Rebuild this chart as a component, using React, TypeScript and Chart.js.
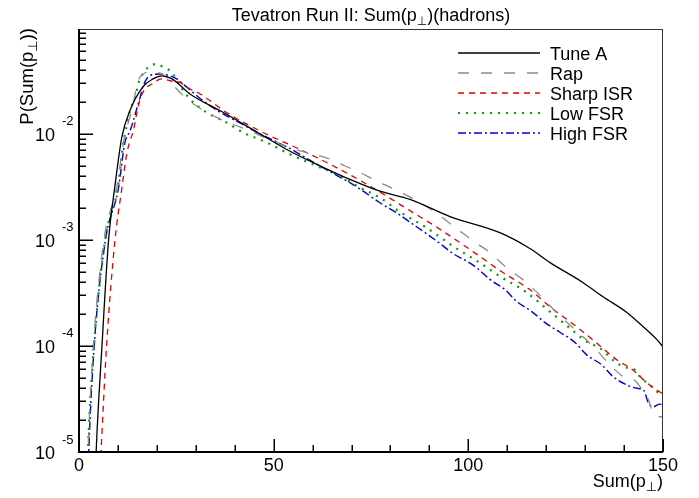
import React, { useEffect, useRef } from "react";
import { Chart, registerables } from "chart.js";

Chart.register(...registerables);

// ---------- axis ranges & ticks ----------
const xMin = 0;
const xMax = 150;
const yMin = 1e-5;
const yMax = 0.0975;
const xTickValues = [0, 10, 20, 30, 40, 50, 60, 70, 80, 90, 100, 110, 120, 130, 140, 150];
const xMajorTicks = [0, 50, 100, 150];
const xTickLabels = ["0", "50", "100", "150"];
const yDecadeExponents = [-5, -4, -3, -2, -1];
const yLabelExponents = ["-5", "-4", "-3", "-2"];

// ---------- legend / series names ----------
const seriesNames = ["Tune A", "Rap", "Sharp ISR", "Low FSR", "High FSR"];

// ---------- data ----------
const tuneAX = [3.5, 4.4, 5.9, 7.6, 9.2, 11.0, 13.1, 16.4, 19.0, 21.3, 23.9, 28.5, 37.0, 45.7, 54.2, 62.7, 69.6, 77.3, 85.0, 95.3, 108.1, 115.8, 121.0, 129.5, 134.6, 140.8, 144.9, 148.5, 150];
const tuneAY = [1e-6, 1e-5, 1e-4, 1e-3, 3.16e-3, 9.33e-3, 1.66e-2, 2.77e-2, 3.30e-2, 3.52e-2, 3.30e-2, 2.38e-2, 1.60e-2, 1.04e-2, 6.85e-3, 4.84e-3, 3.72e-3, 2.88e-3, 2.41e-3, 1.66e-3, 1.17e-3, 8.30e-4, 6.11e-4, 3.95e-4, 2.91e-4, 2.06e-4, 1.52e-4, 1.14e-4, 9.8e-5];

const rapX = [1.5, 2.3, 3.7, 6.4, 9.6, 11.6, 13.6, 15.2, 16.5, 18.8, 21.3, 22.9, 24.7, 26.8, 29.4, 31.5, 36.2, 41.4, 45.6, 49.5, 56.8, 60.2, 64.5, 68.3, 72.2, 76.0, 81.8, 87.2, 92.3, 96.1, 98.7, 101.3, 105.1, 109.9, 114.6, 119.1, 123.2, 127.0, 132.3, 136.4, 139.8, 142.8, 145.0, 146.3, 147.5, 148.6, 149.7];
const rapY = [1e-6, 1e-5, 1e-4, 1e-3, 3.02e-3, 8.91e-3, 1.70e-2, 3.16e-2, 3.67e-2, 3.84e-2, 3.67e-2, 3.30e-2, 2.75e-2, 2.29e-2, 1.91e-2, 1.71e-2, 1.38e-2, 1.16e-2, 1.0e-2, 8.61e-3, 6.90e-3, 6.43e-3, 5.77e-3, 4.98e-3, 4.32e-3, 3.66e-3, 2.92e-3, 2.29e-3, 1.74e-3, 1.35e-3, 1.15e-3, 9.73e-4, 7.82e-4, 5.45e-4, 4.06e-4, 2.83e-4, 1.97e-4, 1.47e-4, 9.70e-5, 6.62e-5, 5.13e-5, 4.71e-5, 3.71e-5, 3.09e-5, 2.31e-5, 2.15e-5, 2.15e-5];

const sharpIsrX = [5.0, 5.65, 7.06, 9.25, 10.97, 12.25, 13.1, 13.95, 14.8, 15.7, 16.95, 18.7, 21.2, 23.4, 25.9, 28.5, 31.1, 37.9, 47.3, 57.6, 67.0, 74.7, 85.8, 92.0, 100.4, 108.9, 115.8, 121.0, 127.9, 132.0, 138.2, 142.3, 145.9, 149.2, 150];
const sharpIsrY = [3.55e-6, 1e-5, 9.77e-5, 1e-3, 3.0e-3, 6.43e-3, 8.59e-3, 1.067e-2, 1.535e-2, 2.13e-2, 2.65e-2, 2.95e-2, 3.30e-2, 3.17e-2, 3.06e-2, 2.65e-2, 2.38e-2, 1.59e-2, 1.03e-2, 6.90e-3, 4.63e-3, 3.22e-3, 1.81e-3, 1.31e-3, 8.13e-4, 4.92e-4, 3.40e-4, 2.34e-4, 1.51e-4, 1.14e-4, 7.38e-5, 5.94e-5, 4.47e-5, 3.68e-5, 3.55e-5];

const lowFsrX = [1.6, 2.3, 3.85, 6.7, 9.9, 11.4, 12.25, 13.1, 14.4, 15.5, 16.5, 17.8, 19.8, 21.7, 23.8, 25.9, 28.5, 32.8, 37.1, 42.2, 48.2, 54.2, 61.1, 66.2, 72.2, 77.3, 82.5, 89.3, 96.1, 103.0, 108.1, 114.6, 121.4, 126.1, 130.4, 133.8, 137.7, 139.8, 142.8, 144.1, 147.1, 148.8, 150];
const lowFsrY = [1e-6, 1e-5, 1e-4, 1e-3, 3.02e-3, 8.30e-3, 1.19e-2, 1.65e-2, 2.21e-2, 3.22e-2, 3.72e-2, 4.25e-2, 4.56e-2, 4.25e-2, 3.81e-2, 2.84e-2, 2.13e-2, 1.59e-2, 1.33e-2, 1.03e-2, 8.30e-3, 6.43e-3, 4.98e-3, 4.16e-3, 3.11e-3, 2.50e-3, 1.83e-3, 1.30e-3, 8.71e-4, 6.07e-4, 4.54e-4, 3.27e-4, 2.04e-4, 1.47e-4, 1.10e-4, 9.53e-5, 7.11e-5, 6.38e-5, 5.94e-5, 5.13e-5, 4.13e-5, 3.62e-5, 3.47e-5];

const highFsrX = [1.7, 2.5, 3.9, 6.8, 10.1, 11.8, 13.1, 13.95, 14.8, 15.7, 16.5, 18.2, 20.8, 22.5, 25.1, 27.7, 33.6, 37.9, 41.8, 45.6, 49.9, 54.2, 58.1, 61.9, 66.2, 69.6, 73.0, 77.3, 81.6, 85.0, 88.9, 92.7, 96.1, 99.6, 102.2, 105.6, 109.4, 112.4, 116.3, 119.7, 123.6, 127.4, 130.4, 134.3, 137.2, 140.7, 143.3, 145.0, 146.3, 147.5, 149.2, 150];
const highFsrY = [1e-6, 1e-5, 1e-4, 1e-3, 3.02e-3, 8.30e-3, 1.067e-2, 1.33e-2, 1.71e-2, 2.21e-2, 2.84e-2, 3.54e-2, 3.67e-2, 3.61e-2, 3.30e-2, 2.75e-2, 1.84e-2, 1.48e-2, 1.24e-2, 1.04e-2, 8.71e-3, 7.28e-3, 5.98e-3, 4.98e-3, 4.06e-3, 3.47e-3, 2.88e-3, 2.24e-3, 1.80e-3, 1.47e-3, 1.17e-3, 9.25e-4, 7.43e-4, 6.30e-4, 5.44e-4, 4.22e-4, 3.40e-4, 2.63e-4, 2.11e-4, 1.66e-4, 1.34e-4, 1.08e-4, 8.24e-5, 6.62e-5, 5.13e-5, 4.29e-5, 3.99e-5, 3.85e-5, 2.88e-5, 2.67e-5, 2.83e-5, 2.82e-5];

// ---------- styles ----------
const FONT = '"Liberation Sans", Arial, Helvetica, "DejaVu Sans", sans-serif';
const seriesStyles = [
  { color: "#000000", width: 1.3, dash: [] as number[] },
  { color: "#8a8a8a", width: 1.3, dash: [11, 12] },
  { color: "#e00000", width: 1.3, dash: [6, 5] },
  { color: "#00a000", width: 2.2, dash: [2, 6] },
  { color: "#0000d0", width: 1.4, dash: [8, 3, 2, 3] },
];

type Part = { text: string; size: number; dy?: number };

function drawParts(ctx: CanvasRenderingContext2D, parts: Part[], x: number, y: number, align: "left" | "right" | "center") {
  ctx.textAlign = "left";
  ctx.textBaseline = "alphabetic";
  const widths = parts.map((p) => {
    ctx.font = `${p.size}px ${FONT}`;
    return ctx.measureText(p.text).width;
  });
  const total = widths.reduce((a, b) => a + b, 0);
  let cx = align === "right" ? x - total : align === "center" ? x - total / 2 : x;
  parts.forEach((p, i) => {
    ctx.font = `${p.size}px ${FONT}`;
    ctx.fillText(p.text, cx, y + (p.dy || 0));
    cx += widths[i];
  });
}

const rootStylePlugin = {
  id: "rootStyle",
  afterDraw(chart: any) {
    const ctx: CanvasRenderingContext2D = chart.ctx;
    const { left, right, top, bottom } = chart.chartArea;
    const xs = chart.scales.x;
    const ys = chart.scales.y;
    ctx.save();
    ctx.setLineDash([]);
    // frame
    ctx.strokeStyle = "#333";
    ctx.lineWidth = 1;
    ctx.strokeRect(left + 0.5, top + 0.5, right - left - 1, bottom - top);
    ctx.strokeStyle = "#000";
    ctx.lineWidth = 2;
    ctx.beginPath();
    ctx.moveTo(left, top);
    ctx.lineTo(left, bottom);
    ctx.lineTo(right, bottom);
    ctx.stroke();
    // x ticks
    ctx.lineWidth = 1.5;
    xTickValues.forEach((v) => {
      const px = Math.round(xs.getPixelForValue(v)) + 0.25;
      const len = xMajorTicks.includes(v) ? 13 : 7;
      ctx.beginPath();
      ctx.moveTo(px, bottom);
      ctx.lineTo(px, bottom - len);
      ctx.stroke();
    });
    // y ticks
    yDecadeExponents.forEach((e) => {
      for (let m = 1; m <= 9; m++) {
        const val = m * Math.pow(10, e);
        if (val < yMin * 0.999 || val > yMax) continue;
        const py = Math.round(ys.getPixelForValue(val)) + 0.25;
        const len = m === 1 ? 14 : 7;
        ctx.beginPath();
        ctx.moveTo(left, py);
        ctx.lineTo(left + len, py);
        ctx.stroke();
      }
    });
    ctx.fillStyle = "#000";
    // x labels
    xMajorTicks.forEach((v, i) => {
      const px = xs.getPixelForValue(v);
      drawParts(ctx, [{ text: xTickLabels[i], size: 18 }], px, bottom + 19, "center");
    });
    // y labels
    yDecadeExponents.forEach((e, i) => {
      if (i >= yLabelExponents.length) return;
      const py = ys.getPixelForValue(Math.pow(10, e));
      drawParts(ctx, [{ text: "10", size: 18 }], left - 24, py + 7, "right");
      drawParts(ctx, [{ text: yLabelExponents[i], size: 13 }], left - 17, py - 8.5, "left");
    });
    // title
    drawParts(
      ctx,
      [
        { text: "Tevatron Run II: Sum(p", size: 18 },
        { text: "\u22A5", size: 12, dy: 4 },
        { text: ")(hadrons)", size: 18 },
      ],
      (left + right) / 2,
      21,
      "center"
    );
    // x axis title
    drawParts(
      ctx,
      [
        { text: "Sum(p", size: 18 },
        { text: "\u22A5", size: 13, dy: 4 },
        { text: ")", size: 18 },
      ],
      right,
      bottom + 35,
      "right"
    );
    // y axis title
    ctx.save();
    ctx.translate(33, top - 1);
    ctx.rotate(-Math.PI / 2);
    drawParts(
      ctx,
      [
        { text: "P(Sum(p", size: 18.5 },
        { text: "\u22A5", size: 13, dy: 4 },
        { text: "))", size: 18.5 },
      ],
      0,
      0,
      "right"
    );
    ctx.restore();
    // legend
    seriesNames.forEach((name, i) => {
      const st = seriesStyles[i];
      const yy = 53 + i * 20;
      ctx.strokeStyle = st.color;
      ctx.lineWidth = st.width;
      ctx.setLineDash(st.dash);
      ctx.beginPath();
      ctx.moveTo(458, yy);
      ctx.lineTo(540, yy);
      ctx.stroke();
      ctx.setLineDash([]);
      ctx.fillStyle = "#000";
      drawParts(ctx, [{ text: name, size: 18 }], 550, yy + 6.5, "left");
    });
    ctx.restore();
  },
};

export default function App() {
  const canvasRef = useRef<HTMLCanvasElement | null>(null);

  useEffect(() => {
    if (!canvasRef.current) return;
    const xsList = [tuneAX, rapX, sharpIsrX, lowFsrX, highFsrX];
    const ysList = [tuneAY, rapY, sharpIsrY, lowFsrY, highFsrY];
    const datasets = seriesNames.map((name, i) => ({
      label: name,
      data: xsList[i].map((x, j) => ({ x, y: ysList[i][j] })),
      borderColor: seriesStyles[i].color,
      borderWidth: seriesStyles[i].width,
      borderDash: seriesStyles[i].dash,
      pointRadius: 0,
      fill: false,
      cubicInterpolationMode: "monotone" as const,
    }));
    const chart = new Chart(canvasRef.current, {
      type: "line",
      data: { datasets },
      options: {
        animation: false,
        responsive: false,
        maintainAspectRatio: false,
        devicePixelRatio: 1,
        layout: { padding: { left: 79, right: 36, top: 29, bottom: 46 } },
        scales: {
          x: { type: "linear", min: xMin, max: xMax, display: false },
          y: { type: "logarithmic", min: yMin, max: yMax, display: false },
        },
        plugins: {
          legend: { display: false },
          tooltip: { enabled: false },
          title: { display: false },
        },
        events: [],
      },
      plugins: [rootStylePlugin],
    });
    return () => chart.destroy();
  }, []);

  return (
    <div style={{ position: "absolute", left: 0, top: 0, width: 699, height: 498, background: "#fff" }}>
      <canvas ref={canvasRef} width={699} height={498} />
    </div>
  );
}
